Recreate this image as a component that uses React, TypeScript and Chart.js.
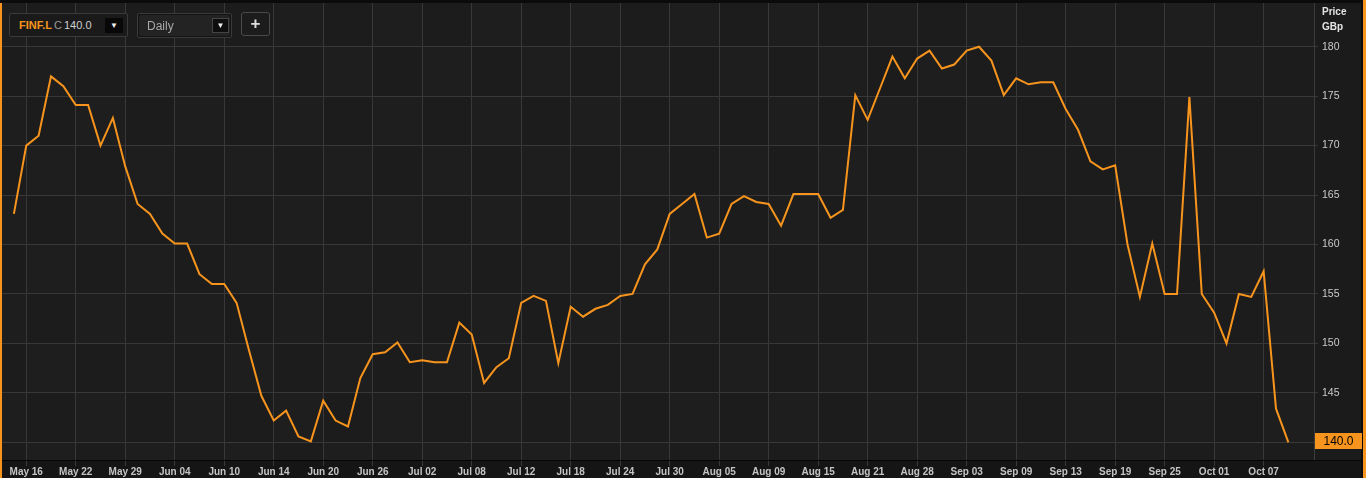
import React, { useEffect, useRef } from "react";
import { Chart, registerables } from "chart.js";

Chart.register(...registerables);

const ticker = "FINF.L";
const lastCloseText = "140.0";
const intervalText = "Daily";
const axisTitle = ["Price", "GBp"];

const dates = [
  "May 15", "May 16", "May 17", "May 20", "May 21", "May 22", "May 23", "May 24", "May 28", "May 29", "May 30", "May 31",
  "Jun 03", "Jun 04", "Jun 05", "Jun 06", "Jun 07", "Jun 10", "Jun 11", "Jun 12", "Jun 13", "Jun 14", "Jun 17", "Jun 18",
  "Jun 19", "Jun 20", "Jun 21", "Jun 24", "Jun 25", "Jun 26", "Jun 27", "Jun 28",
  "Jul 01", "Jul 02", "Jul 03", "Jul 04", "Jul 05", "Jul 08", "Jul 09", "Jul 10", "Jul 11", "Jul 12", "Jul 15", "Jul 16",
  "Jul 17", "Jul 18", "Jul 19", "Jul 22", "Jul 23", "Jul 24", "Jul 25", "Jul 26", "Jul 29", "Jul 30", "Jul 31",
  "Aug 01", "Aug 02", "Aug 05", "Aug 06", "Aug 07", "Aug 08", "Aug 09", "Aug 12", "Aug 13", "Aug 14", "Aug 15", "Aug 16",
  "Aug 19", "Aug 20", "Aug 21", "Aug 22", "Aug 23", "Aug 27", "Aug 28", "Aug 29", "Aug 30",
  "Sep 02", "Sep 03", "Sep 04", "Sep 05", "Sep 06", "Sep 09", "Sep 10", "Sep 11", "Sep 12", "Sep 13", "Sep 16", "Sep 17",
  "Sep 18", "Sep 19", "Sep 20", "Sep 23", "Sep 24", "Sep 25", "Sep 26", "Sep 27", "Sep 30",
  "Oct 01", "Oct 02", "Oct 03", "Oct 04", "Oct 07", "Oct 08", "Oct 09",
];

const prices = [
  163.1, 170.0, 171.0, 177.0, 176.0, 174.1, 174.1, 170.0, 172.8, 167.9, 164.1, 163.1,
  161.1, 160.1, 160.1, 157.0, 156.0, 156.0, 154.1, 149.3, 144.7, 142.2, 143.2, 140.6,
  140.1, 144.2, 142.2, 141.6, 146.5, 148.9, 149.1, 150.1,
  148.1, 148.3, 148.1, 148.1, 152.1, 150.9, 146.0, 147.6, 148.5, 154.1, 154.8, 154.3,
  148.0, 153.7, 152.7, 153.5, 153.9, 154.8, 155.0, 158.0, 159.5, 163.1, 164.1,
  165.1, 160.7, 161.1, 164.1, 164.9, 164.3, 164.1, 161.9, 165.1, 165.1, 165.1, 162.7,
  163.5, 175.1, 172.6, 175.8, 179.0, 176.8, 178.8, 179.6, 177.8,
  178.2, 179.6, 180.0, 178.6, 175.1, 176.8, 176.2, 176.4, 176.4, 173.7, 171.6, 168.4,
  167.6, 168.0, 160.0, 154.7, 160.1, 155.0, 155.0, 174.9, 155.0,
  153.1, 150.0, 155.0, 154.7, 157.3, 143.4, 140.0,
];

const tickDates = [
  "May 16", "May 22", "May 29", "Jun 04", "Jun 10", "Jun 14", "Jun 20", "Jun 26", "Jul 02",
  "Jul 08", "Jul 12", "Jul 18", "Jul 24", "Jul 30", "Aug 05", "Aug 09", "Aug 15", "Aug 21",
  "Aug 28", "Sep 03", "Sep 09", "Sep 13", "Sep 19", "Sep 25", "Oct 01", "Oct 07",
];

const priceTicks = [140, 145, 150, 155, 160, 165, 170, 175, 180];

const ORANGE = "#f7941d";
const GRID = "#383838";
const FONT = "'Liberation Sans', Arial, sans-serif";

const framePlugin = {
  id: "frame",
  beforeDraw(chart: any) {
    const { ctx, chartArea: a, width, height } = chart;
    const xs = chart.scales.x;
    const ys = chart.scales.y;
    ctx.save();
    ctx.fillStyle = "#151515";
    ctx.fillRect(0, 0, width, height);
    ctx.fillStyle = "#1b1b1b";
    ctx.fillRect(a.right, 0, width - a.right, a.bottom);
    const xb = [a.left, ...xs.ticks.map((t: any) => xs.getPixelForValue(t.value)), a.right];
    const yb = [a.top, ...ys.ticks.map((t: any) => ys.getPixelForValue(t.value)).sort((p: number, q: number) => p - q), a.bottom];
    for (let i = 0; i < xb.length - 1; i++) {
      for (let j = 0; j < yb.length - 1; j++) {
        ctx.fillStyle = (i + j) % 2 === 0 ? "#1e1e1e" : "#1c1c1c";
        ctx.fillRect(xb[i], yb[j], xb[i + 1] - xb[i], yb[j + 1] - yb[j]);
      }
    }
    ctx.restore();
  },
  afterDraw(chart: any) {
    const { ctx, chartArea: a, width, height } = chart;
    const ys = chart.scales.y;
    ctx.save();
    ctx.fillStyle = "#0b0b0b";
    ctx.fillRect(0, 0, width, 3);
    ctx.fillStyle = "#050505";
    ctx.fillRect(0, a.bottom, width, 1);
    ctx.fillStyle = ORANGE;
    ctx.fillRect(0, 3, 2, height - 3);
    ctx.fillStyle = "#0b0b0b";
    ctx.fillRect(width - 5, 0, 2, height);
    ctx.fillStyle = ORANGE;
    ctx.fillRect(width - 3, 0, 3, height);
    ctx.fillStyle = "#e4e4e4";
    ctx.font = "bold 10px " + FONT;
    ctx.textAlign = "left";
    ctx.textBaseline = "alphabetic";
    ctx.fillText(axisTitle[0], a.right + 8, 14.5);
    ctx.fillText(axisTitle[1], a.right + 8, 29.5);
    const last = prices[prices.length - 1];
    const py = ys.getPixelForValue(last);
    ctx.fillStyle = ORANGE;
    ctx.fillRect(a.right + 1, Math.round(py) - 9, 47, 16);
    ctx.fillStyle = "#000";
    ctx.font = "12px " + FONT;
    ctx.textAlign = "center";
    ctx.textBaseline = "middle";
    ctx.fillText(lastCloseText, a.right + 24.5, Math.round(py) - 0.5);
    ctx.restore();
  },
};

function Controls() {
  const box: React.CSSProperties = {
    position: "absolute",
    boxSizing: "border-box",
    border: "1px solid #3a3a3a",
    fontFamily: FONT,
    display: "flex",
    alignItems: "center",
  };
  const arrow: React.CSSProperties = {
    position: "absolute",
    boxSizing: "border-box",
    display: "flex",
    alignItems: "center",
    justifyContent: "center",
    fontSize: 8,
    color: "#eee",
  };
  return (
    <>
      <div style={{ ...box, left: 9, top: 13, width: 119, height: 24, background: "#1a1a1a", borderRadius: 2 }}>
        <span style={{ position: "absolute", left: 9, top: 5, fontSize: 11, color: ORANGE, fontWeight: "bold" }}>{ticker}</span>
        <span style={{ position: "absolute", left: 44, top: 5, fontSize: 11, color: "#9a9a9a" }}>C</span>
        <span style={{ position: "absolute", left: 54, top: 5, fontSize: 11, color: "#cfcfcf" }}>{lastCloseText}</span>
        <div style={{ ...arrow, left: 95, top: 4, width: 18, height: 15, background: "#080808" }}>▼</div>
      </div>
      <div style={{ ...box, left: 137, top: 13, width: 95, height: 25, background: "#141414", borderRadius: 2 }}>
        <div style={{ position: "absolute", left: 1, top: 1, right: 1, bottom: 1, background: "#232323", borderRadius: 2 }} />
        <span style={{ position: "absolute", left: 9, top: 5, fontSize: 12, color: "#a8a8a8" }}>{intervalText}</span>
        <div style={{ ...arrow, left: 74, top: 4, width: 17, height: 15, background: "#0e0e0e", border: "1px solid #444" }}>▼</div>
      </div>
      <div style={{ ...box, left: 241, top: 12, width: 29, height: 24, background: "#1c1c1c", border: "1px solid #4a4a4a", borderRadius: 3, justifyContent: "center" }}>
        <span style={{ fontSize: 17, fontWeight: "bold", color: "#dedede", lineHeight: "17px", marginTop: -2 }}>+</span>
      </div>
    </>
  );
}

export default function App() {
  const canvasRef = useRef<HTMLCanvasElement | null>(null);

  useEffect(() => {
    const canvas = canvasRef.current;
    if (!canvas) return;
    const points = prices.map((v, i) => ({ x: i, y: v }));
    const tickIdx = tickDates.map((d) => dates.indexOf(d));
    const chart = new Chart(canvas, {
      type: "line",
      data: {
        datasets: [
          {
            data: points,
            borderColor: ORANGE,
            borderWidth: 2,
            pointRadius: 0,
            tension: 0,
            fill: false,
          },
        ],
      },
      options: {
        animation: false,
        responsive: false,
        devicePixelRatio: 1,
        events: [],
        layout: { padding: { left: 2, top: 3, right: 0, bottom: 0 } },
        plugins: { legend: { display: false }, tooltip: { enabled: false } },
        scales: {
          x: {
            type: "linear",
            min: -0.96,
            max: 105.07,
            afterBuildTicks: (s: any) => {
              s.ticks = tickIdx.map((v) => ({ value: v }));
            },
            afterFit: (s: any) => {
              s.height = 18;
              s.paddingLeft = 0;
              s.paddingRight = 0;
            },
            grid: { color: GRID, lineWidth: 1, drawTicks: true, tickLength: 6, tickColor: "#3a3a3a" },
            border: { display: true, color: "#050505", width: 1 },
            ticks: {
              autoSkip: false,
              maxRotation: 0,
              padding: 0,
              color: "#c4c4c4",
              font: { family: FONT, size: 10, weight: "bold" },
              callback: (v: any) => dates[Math.round(Number(v))],
            },
          },
          y: {
            type: "linear",
            position: "right",
            min: 138.21,
            max: 184.42,
            afterBuildTicks: (s: any) => {
              s.ticks = priceTicks.map((v) => ({ value: v }));
            },
            afterFit: (s: any) => {
              s.width = 52;
              s.paddingTop = 0;
              s.paddingBottom = 0;
            },
            grid: { color: GRID, lineWidth: 1, drawTicks: true, tickLength: 4 },
            border: { display: true, color: "#3c3c3c", width: 1 },
            ticks: {
              padding: 4,
              color: "#cacaca",
              font: { family: FONT, size: 10.5 },
              callback: (v: any) => String(v),
            },
          },
        },
      },
      plugins: [framePlugin],
    } as any);
    return () => chart.destroy();
  }, []);

  return (
    <div style={{ position: "fixed", left: 0, top: 0, width: 1366, height: 478, overflow: "hidden", background: "#151515" }}>
      <canvas ref={canvasRef} width={1366} height={478} style={{ position: "absolute", left: 0, top: 0, width: 1366, height: 478 }} />
      <Controls />
    </div>
  );
}
